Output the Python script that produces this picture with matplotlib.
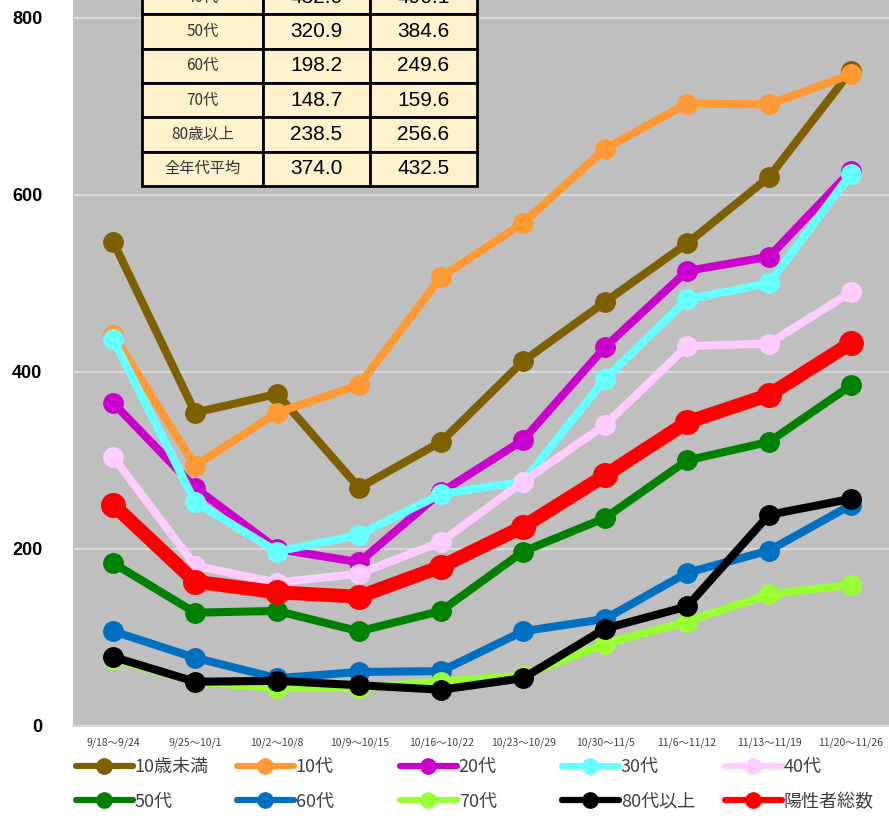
import matplotlib
matplotlib.use('Agg')
from matplotlib import pyplot as plt
from matplotlib.lines import Line2D

# week labels
weeks = ['9/18～9/24', '9/25～10/1', '10/2～10/8', '10/9～10/15', '10/16～10/22',
         '10/23～10/29', '10/30～11/5', '11/6～11/12', '11/13～11/19', '11/20～11/26']

under10 = [547, 354, 375, 269, 321, 412, 479, 545, 620, 740]
teens = [442, 294, 354, 385, 507, 568, 652, 703, 702, 736]
age20 = [365, 269, 200, 185, 264, 323, 428, 514, 530, 627]
age30 = [437, 253, 197, 216, 262, 276, 392, 482, 500, 624]
age40 = [304, 181, 162, 172, 208, 276, 340, 429, 432.0, 490.1]
age50 = [184, 128, 130, 107, 130, 197, 235, 300, 320.9, 384.6]
age60 = [107, 77, 54, 61, 62, 107, 121, 173, 198.2, 249.6]
age70 = [76, 50, 43, 43, 50, 57, 93, 118, 148.7, 159.6]
age80 = [78, 50, 51, 46, 41, 54, 110, 135, 238.5, 256.6]
total = [250, 163, 151, 146, 180, 225, 283, 343, 374.0, 432.5]

names = ['10歳未満', '10代', '20代', '30代', '40代', '50代', '60代', '70代', '80代以上', '陽性者総数']
series = [under10, teens, age20, age30, age40, age50, age60, age70, age80, total]
colors = ['#7F6000', '#FF9933', '#CC00CC', '#66FFFF', '#FFCCFF',
          '#008000', '#0070C0', '#99FF33', '#000000', '#FF0000']

# table (last two weeks)
tbl_rows = ['40代', '50代', '60代', '70代', '80歳以上', '全年代平均']
tbl_prev = ['432.0', '320.9', '198.2', '148.7', '238.5', '374.0']
tbl_last = ['490.1', '384.6', '249.6', '159.6', '256.6', '432.5']

jp = ['Noto Sans CJK JP', 'DejaVu Sans']

fig = plt.figure(figsize=(8.89, 8.16), dpi=100)
ax = fig.add_axes([73 / 889, 90 / 816, 819 / 889, 726 / 816])
ax.set_facecolor('#BFBFBF')

x = list(range(len(weeks)))
handles = []
for name, vals, c in zip(names, series, colors):
    if name == '陽性者総数':
        lw, ms = 10, 17
    else:
        lw, ms = 5.8, 14
    ax.plot(x, vals, '-o', color=c, lw=lw, ms=ms, label=name, zorder=3)
    handles.append(Line2D([0], [0], color=c, lw=4.5, marker='o', ms=11,
                          solid_capstyle='round'))

ax.set_xlim(-0.49, 9.5)
ax.set_ylim(0, 820)
ax.set_yticks([0, 200, 400, 600, 800])
ax.yaxis.grid(True, color='#D9D9D9', lw=1.5)
ax.set_axisbelow(True)
for s in ['top', 'right', 'left']:
    ax.spines[s].set_visible(False)
ax.spines['bottom'].set_color('#D9D9D9')
ax.spines['bottom'].set_linewidth(1.5)
ax.tick_params(length=0)
ax.tick_params(axis='y', pad=22)
for lab in ax.get_yticklabels():
    lab.set_family('Liberation Sans')
    lab.set_fontweight('bold')
    lab.set_fontsize(13)
ax.set_xticks(x)
ax.set_xticklabels(weeks, fontsize=7.5, color='#404040', family=jp)
ax.tick_params(axis='x', pad=8)

# legend in two rows, five evenly spaced columns
col_x = [76, 237, 400, 562, 725]
for i in range(5):
    lg = fig.legend(handles=[handles[i], handles[i + 5]], labels=[names[i], names[i + 5]],
                    loc='upper left', bbox_to_anchor=(col_x[i] / 889, 1 - 758 / 816),
                    frameon=False, handlelength=3.15, handletextpad=0.1,
                    labelspacing=0.92, borderpad=0, borderaxespad=0,
                    prop={'family': jp, 'size': 13})
    for t in lg.get_texts():
        t.set_color('#404040')

# summary table
tax = fig.add_axes([142 / 889, (816 - 186) / 816, 335 / 889, 206 / 816])
tax.axis('off')
cells = [[r, a, b] for r, a, b in zip(tbl_rows, tbl_prev, tbl_last)]
tb = tax.table(cellText=cells, bbox=[0, 0, 1, 1], cellLoc='center',
               colWidths=[121, 107, 107])
tb.auto_set_font_size(False)
for (r, c), cell in tb.get_celld().items():
    cell.set_facecolor('#FFF2CC')
    cell.set_edgecolor('black')
    cell.set_linewidth(2)
    if c == 0:
        cell.get_text().set_fontsize(11)
        cell.get_text().set_family(jp)
        cell.get_text().set_color('#333333')
    else:
        cell.get_text().set_fontsize(15)
        cell.get_text().set_family('Liberation Sans')

plt.savefig('out.png', dpi=100, facecolor='white')
plt.close()
